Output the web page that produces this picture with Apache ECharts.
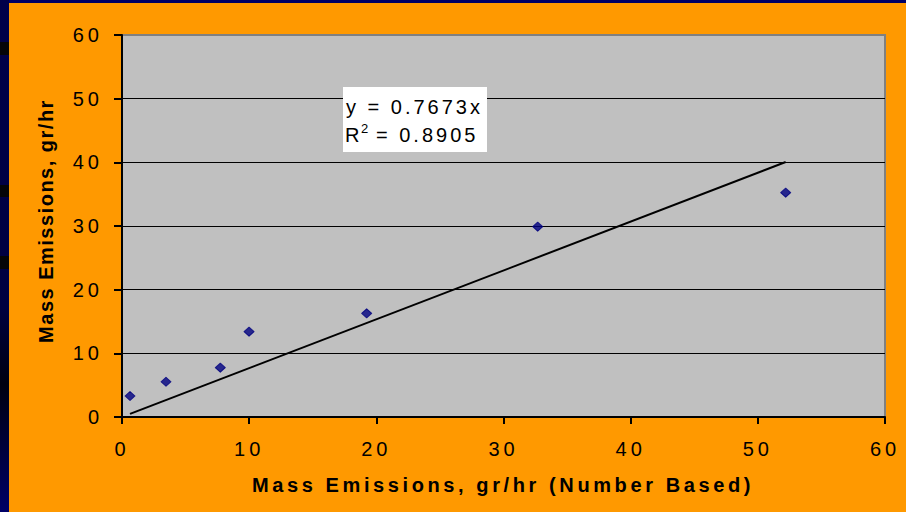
<!DOCTYPE html>
<html><head><meta charset="utf-8">
<script src="https://cdn.jsdelivr.net/npm/echarts@6/dist/echarts.min.js"></script>
<style>html,body{margin:0;padding:0;background:#FF9900;overflow:hidden;} #c{width:906px;height:512px;}</style>
</head><body><div id="c"></div>
<script>
// ---- data ----
const xValues = [0.63, 3.46, 7.73, 9.99, 19.24, 32.69, 52.19];
const yValues = [3.30, 5.54, 7.75, 13.40, 16.28, 29.90, 35.23];
const trendSlope = 0.7673;
const rSquared = 0.8905;
const xTicks = [0, 10, 20, 30, 40, 50, 60];
const yTicks = [0, 10, 20, 30, 40, 50, 60];
const xTitle = 'Mass Emissions, gr/hr (Number Based)';
const yTitle = 'Mass Emissions, gr/hr';
const eqText = 'y = ' + trendSlope.toFixed(4) + 'x';
const r2Text = '= ' + rSquared.toFixed(4);

const points = xValues.map((x, i) => [x, yValues[i]]);
const xMin = Math.min(...xValues), xMax = Math.max(...xValues);
const trendData = [[xMin, trendSlope * xMin], [xMax, trendSlope * xMax]];

const FONT = '"Liberation Sans", Arial, sans-serif';
const chart = echarts.init(document.getElementById('c'), null, {renderer: 'svg'});

const option = {
  animation: false,
  backgroundColor: '#FF9900',
  grid: {
    left: 122, right: 21, top: 35, bottom: 95,
    show: true, backgroundColor: '#C0C0C0', borderColor: '#808080', borderWidth: 2
  },
  xAxis: {
    type: 'value',
    min: xTicks[0], max: xTicks[xTicks.length - 1], interval: xTicks[1] - xTicks[0],
    axisLine: {show: true, onZero: false, lineStyle: {color: '#000', width: 2}},
    axisTick: {show: true, length: 7, lineStyle: {color: '#000', width: 2}},
    axisLabel: {color: '#000', fontSize: 20, fontFamily: FONT, margin: 22},
    splitLine: {show: false}
  },
  yAxis: {
    type: 'value',
    min: yTicks[0], max: yTicks[yTicks.length - 1], interval: yTicks[1] - yTicks[0],
    axisLine: {show: true, onZero: false, lineStyle: {color: '#000', width: 2}},
    axisTick: {show: true, length: 8, lineStyle: {color: '#000', width: 2}},
    axisLabel: {color: '#000', fontSize: 20, fontFamily: FONT, margin: 19},
    splitLine: {show: true, showMinLine: false, showMaxLine: false, lineStyle: {color: '#000', width: 1}}
  },
  series: [
    {
      type: 'line', data: trendData, symbol: 'none', silent: true,
      lineStyle: {color: '#000', width: 2}, z: 3
    },
    {
      type: 'scatter', data: points, symbol: 'diamond', symbolSize: [10, 9],
      itemStyle: {color: '#000080', borderColor: '#000080', borderWidth: 1, borderJoin: 'round'}, z: 4
    }
  ],
  graphic: [
    // frame strips
    {type: 'rect', shape: {x: 0, y: 0, width: 906, height: 3}, style: {fill: '#000066'}, z: 1},
    {type: 'rect', shape: {x: 0, y: 0, width: 9, height: 512},
      style: {fill: new echarts.graphic.LinearGradient(0, 0, 0, 1, [
        {offset: 0, color: '#00004A'}, {offset: 0.6, color: '#000040'},
        {offset: 0.75, color: '#000010'}, {offset: 1, color: '#000066'}])}, z: 1},
    {type: 'rect', shape: {x: 0, y: 42, width: 9, height: 13}, style: {fill: '#050508'}, z: 2},
    {type: 'rect', shape: {x: 0, y: 185, width: 9, height: 12}, style: {fill: '#050508'}, z: 2},
    {type: 'rect', shape: {x: 0, y: 256, width: 9, height: 13}, style: {fill: '#050508'}, z: 2},
    // axis titles
    {type: 'text', x: 503, y: 485, z: 10,
      style: {text: xTitle, fill: '#000', font: 'bold 20px ' + FONT, align: 'center', verticalAlign: 'middle'}},
    {type: 'text', x: 46, y: 221, rotation: Math.PI / 2, z: 10,
      style: {text: yTitle, fill: '#000', font: 'bold 20px ' + FONT, align: 'center', verticalAlign: 'middle'}},
    // annotation
    {type: 'rect', shape: {x: 343, y: 87, width: 144, height: 65}, style: {fill: '#FFFFFF'}, z: 100},
    {type: 'text', x: 346, y: 107, z: 101,
      style: {text: eqText, fill: '#000', font: '20px ' + FONT, align: 'left', verticalAlign: 'middle'}},
    {type: 'text', x: 345, y: 135, z: 101,
      style: {text: 'R', fill: '#000', font: '20px ' + FONT, align: 'left', verticalAlign: 'middle'}},
    {type: 'text', x: 361, y: 128, z: 101,
      style: {text: '2', fill: '#000', font: '13px ' + FONT, align: 'left', verticalAlign: 'middle'}},
    {type: 'text', x: 376, y: 135, z: 101,
      style: {text: r2Text, fill: '#000', font: '20px ' + FONT, align: 'left', verticalAlign: 'middle'}}
  ]
};
chart.setOption(option);

function applySpacing() {
  document.querySelectorAll('#c svg text').forEach(t => {
    const s = t.textContent;
    let ls = 4;
    if (s === yTitle) ls = 1.5;
    else if (s === xTitle) ls = 3.6;
    else if (s === eqText || s === r2Text) ls = 3;
    else if (s === '2' || s === 'R') ls = 0;
    t.setAttribute('letter-spacing', ls);
  });
}
applySpacing();
chart.on('finished', applySpacing);
</script>
</body></html>
